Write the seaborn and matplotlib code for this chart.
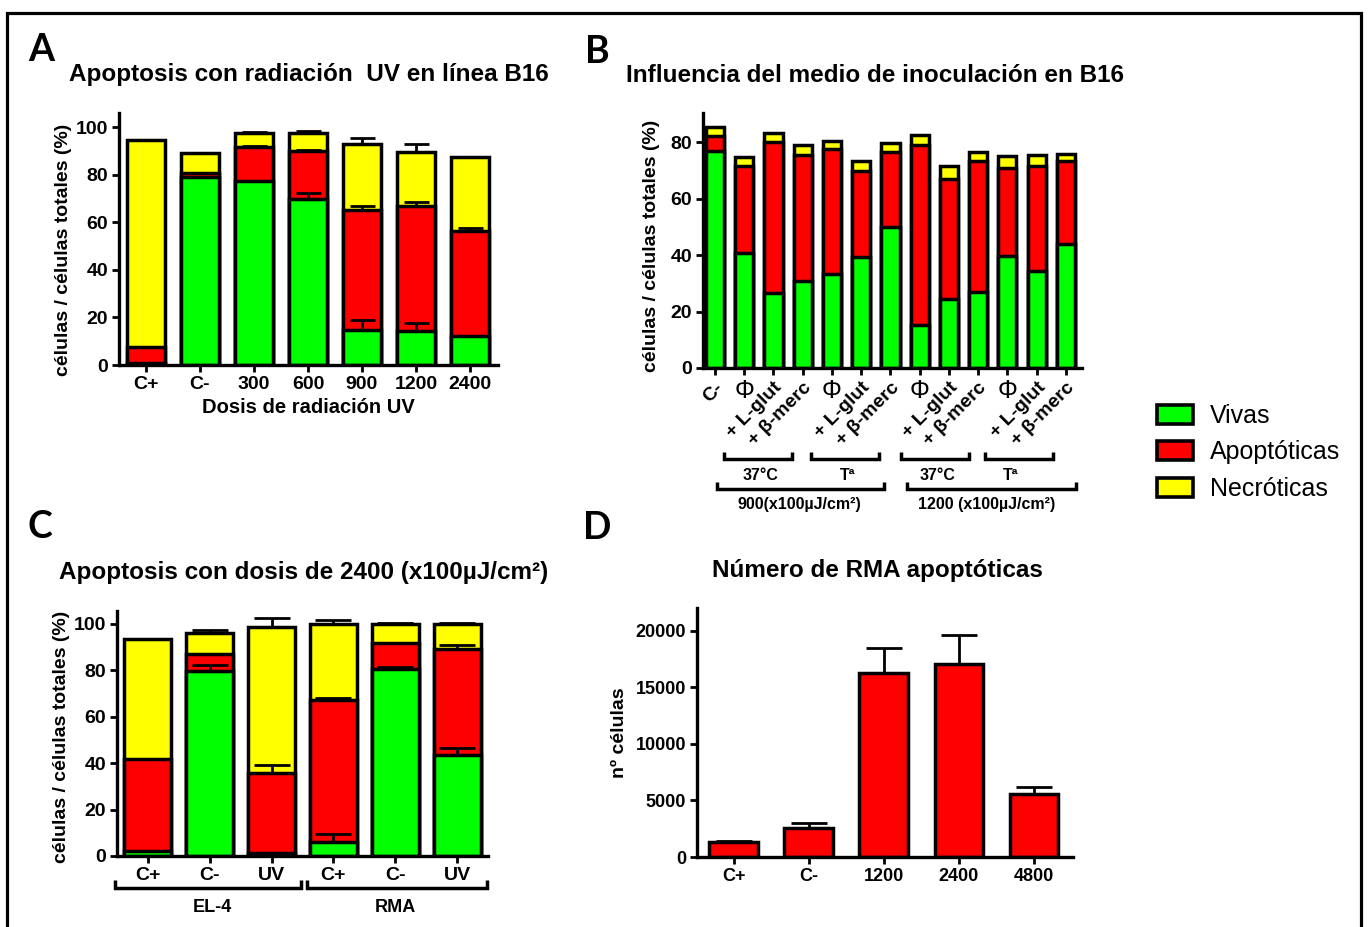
import numpy as np
import pandas as pd
import seaborn as sns
import matplotlib
matplotlib.use("Agg")
import matplotlib.pyplot as plt
from matplotlib.patches import Patch, Rectangle
from matplotlib.lines import Line2D
from matplotlib.transforms import blended_transform_factory

# ---------------- data ----------------
a_labels = ["C+", "C-", "300", "600", "900", "1200", "2400"]
a_vivas = [1.0, 79.0, 77.3, 69.7, 14.8, 14.3, 12.0]
a_apopt = [6.5, 1.7, 14.4, 20.3, 50.2, 52.6, 44.5]
a_necro = [87.0, 8.6, 5.7, 7.7, 27.9, 22.5, 30.8]
a_err_vivas = [0, 0, 0, 2.5, 4.0, 3.4, 0]
a_err_apopt = [0, 0, 0.5, 0.4, 1.7, 1.8, 1.0]
a_err_necro = [0, 0, 0.4, 0.8, 2.6, 3.6, 0]

b_labels = ["C-", "Φ", "+ L-glut", "+ β-merc", "Φ", "+ L-glut", "+ β-merc",
            "Φ", "+ L-glut", "+ β-merc", "Φ", "+ L-glut", "+ β-merc"]
b_vivas = [76.7, 40.9, 26.7, 30.8, 33.2, 39.3, 50.0, 15.4, 24.6, 26.9, 39.7, 34.4, 43.8]
b_apopt = [5.6, 30.8, 53.2, 44.8, 44.4, 30.6, 26.4, 63.6, 42.3, 46.5, 31.0, 37.3, 29.6]
b_necro = [3.2, 3.1, 3.2, 3.4, 2.7, 3.3, 3.3, 3.5, 4.8, 3.0, 4.3, 3.9, 2.4]
b_temp_labels = ["37°C", "Tª", "37°C", "Tª"]
b_dose_labels = ["900(x100µJ/cm²)", "1200 (x100µJ/cm²)"]

c_labels = ["C+", "C-", "UV", "C+", "C-", "UV"]
c_groups = ["EL-4", "RMA"]
c_vivas = [2.2, 79.6, 1.2, 6.0, 80.8, 43.7]
c_apopt = [39.7, 7.6, 34.5, 61.4, 10.8, 45.4]
c_necro = [51.8, 8.9, 63.1, 32.4, 8.4, 10.9]
c_err_vivas = [0, 2.6, 0, 3.4, 0.7, 2.9]
c_err_apopt = [0, 0, 3.5, 0.5, 0, 1.9]
c_err_necro = [0, 1.3, 3.8, 1.8, 0.3, 0.4]

d_labels = ["C+", "C-", "1200", "2400", "4800"]
d_values = [1330, 2600, 16250, 17050, 5550]
d_err = [120, 400, 2200, 2550, 650]

legend_labels = ["Vivas", "Apoptóticas", "Necróticas"]

# ---------------- style ----------------
sns.set_style("ticks")
plt.rcParams["font.family"] = ["Liberation Sans", "DejaVu Sans"]
plt.rcParams["font.weight"] = "bold"
plt.rcParams["axes.labelweight"] = "bold"
for k in ["text.color", "axes.labelcolor", "xtick.color", "ytick.color", "axes.edgecolor"]:
    plt.rcParams[k] = "black"

GRN, RED, YEL = "#00ff00", "#ff0000", "#ffff00"
LW = 2.5
W, H = 1368, 927

fig = plt.figure(figsize=(W / 100, H / 100), dpi=100)
fig.patch.set_facecolor("white")


def fx(px):
    return px / W


def fy(py):
    return 1 - py / H


def add_ax(left, top, right, bottom):
    return fig.add_axes([fx(left), fy(bottom), (right - left) / W, (bottom - top) / H])


def stacked(ax, vivas, apopt, necro, width, errs=None, capsize=9):
    v = np.array(vivas, float)
    a = np.array(apopt, float)
    n = np.array(necro, float)
    x = np.arange(len(v))
    for h, c in zip([v + a + n, v + a, v], [YEL, RED, GRN]):
        sns.barplot(x=x, y=h, color=c, width=width, saturation=1,
                    edgecolor="black", linewidth=LW, errorbar=None, ax=ax)
    if errs is not None:
        for h, e in zip([v, v + a, v + a + n], errs):
            e = np.array(e, float)
            m = e > 0
            ax.errorbar(x[m], h[m], yerr=[np.zeros(m.sum()), e[m]], fmt="none",
                        ecolor="black", elinewidth=2, capsize=capsize, capthick=2,
                        zorder=5)


def style(ax, xlim, ylim, yticks, labels, fs, rot=0):
    ax.set_xlim(*xlim)
    ax.set_ylim(*ylim)
    ax.set_yticks(yticks)
    ax.set_xlabel("")
    ax.set_ylabel("")
    for s in ["top", "right"]:
        ax.spines[s].set_visible(False)
    for s in ["left", "bottom"]:
        ax.spines[s].set_linewidth(2.4)
        ax.spines[s].set_color("black")
    ax.tick_params(direction="out", length=5, width=2, labelsize=fs, pad=3,
                   colors="black")
    if rot:
        ax.set_xticks(range(len(labels)), labels, rotation=rot, ha="right",
                      rotation_mode="anchor", fontsize=fs, fontweight="bold")
    else:
        ax.set_xticks(range(len(labels)), labels, fontsize=fs, fontweight="bold")
    for lab in ax.get_yticklabels():
        lab.set_fontweight("bold")
    ax.set_facecolor("none")


def bracket(ax, x1, x2, py, h=7, lw=2.5):
    tr = blended_transform_factory(ax.transData, fig.transFigure)
    y0 = fy(py)
    y1 = fy(py - h)
    ax.add_line(Line2D([x1, x1, x2, x2], [y1, y0, y0, y1], transform=tr,
                       color="black", lw=lw, clip_on=False,
                       solid_capstyle="butt", solid_joinstyle="miter"))


def label_at(ax, x, py, text, fs):
    tr = blended_transform_factory(ax.transData, fig.transFigure)
    ax.text(x, fy(py), text, transform=tr, ha="center", va="center",
            fontsize=fs, fontweight="bold", clip_on=False)


# ---------------- Panel A ----------------
axA = add_ax(119, 113, 498, 365)
stacked(axA, a_vivas, a_apopt, a_necro, 0.70,
        errs=[a_err_vivas, a_err_apopt, a_err_necro], capsize=9)
style(axA, (-0.5, 6.52), (0, 106), [0, 20, 40, 60, 80, 100], a_labels, 14)

# ---------------- Panel B ----------------
axB = add_ax(703, 113, 1082, 368)
stacked(axB, b_vivas, b_apopt, b_necro, 0.62)
style(axB, (-0.41, 12.55), (0, 90.3), [0, 20, 40, 60, 80], b_labels, 14, rot=45)
for lab in axB.get_xticklabels():
    if lab.get_text() == "Φ":
        lab.set_rotation(0)
        lab.set_fontweight("normal")
        lab.set_fontsize(18)
        lab.set_horizontalalignment("center")
        lab.set_x(lab.get_position()[0] - 0.25)
for (x1, x2) in [(0.31, 2.63), (3.28, 5.61), (6.36, 8.68), (9.23, 11.56)]:
    bracket(axB, x1, x2, 459)
for x, t in zip([1.54, 4.55, 7.6, 10.1], b_temp_labels):
    label_at(axB, x, 476, t, 11.5)
for (x1, x2) in [(0.07, 5.78), (6.56, 12.36)]:
    bracket(axB, x1, x2, 489)
for x, t in zip([2.9, 9.3], b_dose_labels):
    label_at(axB, x, 505, t, 11.5)

# ---------------- Panel C ----------------
axC = add_ax(117, 611, 488, 856)
stacked(axC, c_vivas, c_apopt, c_necro, 0.76,
        errs=[c_err_vivas, c_err_apopt, c_err_necro], capsize=13)
style(axC, (-0.5, 5.5), (0, 105.6), [0, 20, 40, 60, 80, 100], c_labels, 14)
bracket(axC, -0.53, 2.48, 888, h=8)
bracket(axC, 2.57, 5.49, 888, h=8)
for x, t in zip([1.04, 4.01], c_groups):
    label_at(axC, x, 908, t, 13)

# ---------------- Panel D ----------------
axD = add_ax(697, 608, 1073, 857)
dx = np.arange(len(d_values))
sns.barplot(x=dx, y=d_values, color=RED, width=0.65, saturation=1,
            edgecolor="black", linewidth=LW, errorbar=None, ax=axD)
axD.errorbar(dx, d_values, yerr=[np.zeros(len(d_err)), d_err], fmt="none",
             ecolor="black", elinewidth=2, capsize=13, capthick=2, zorder=5)
style(axD, (-0.49, 4.52), (0, 22000), [0, 5000, 10000, 15000, 20000], d_labels, 13)

# ---------------- texts ----------------
title_fs = 17.5
fig.text(fx(309), fy(75), "Apoptosis con radiación  UV en línea B16", ha="center",
         va="center", fontsize=title_fs, fontweight="bold")
fig.text(fx(875), fy(75), "Influencia del medio de inoculación en B16", ha="center",
         va="center", fontsize=title_fs, fontweight="bold")
fig.text(fx(304), fy(573), "Apoptosis con dosis de 2400 (x100µJ/cm²)", ha="center",
         va="center", fontsize=title_fs, fontweight="bold")
fig.text(fx(877), fy(570), "Número de RMA apoptóticas", ha="center",
         va="center", fontsize=title_fs, fontweight="bold")

ylab = "células / células totales (%)"
fig.text(fx(63), fy(250), ylab, rotation=90, ha="center", va="center",
         fontsize=14, fontweight="bold")
fig.text(fx(652), fy(246), ylab, rotation=90, ha="center", va="center",
         fontsize=14, fontweight="bold")
fig.text(fx(62), fy(737), ylab, rotation=90, ha="center", va="center",
         fontsize=14, fontweight="bold")
fig.text(fx(620), fy(733), "nº células", rotation=90, ha="center", va="center",
         fontsize=14, fontweight="bold")
fig.text(fx(308), fy(407), "Dosis de radiación UV", ha="center", va="center",
         fontsize=14.5, fontweight="bold")

for t, px, py in [("A", 41, 50), ("B", 597, 52), ("C", 40, 527), ("D", 597, 528)]:
    fig.text(fx(px), fy(py), t, ha="center", va="center", fontsize=27,
             fontweight="bold", family=["Lato", "DejaVu Sans"])

# ---------------- legend ----------------
handles = [Patch(facecolor=c, edgecolor="black", linewidth=2.6, label=l)
           for c, l in zip([GRN, RED, YEL], legend_labels)]
fig.legend(handles=handles, loc="upper left", bbox_to_anchor=(fx(1157), fy(404)),
           frameon=False, prop={"size": 18, "weight": "normal"},
           handlelength=1.45, handleheight=0.8, handletextpad=0.65,
           labelspacing=0.5, borderpad=0, borderaxespad=0)

# ---------------- frame ----------------
fig.add_artist(Rectangle((fx(7), -0.05), (1361 - 7) / W, fy(13) + 0.05,
                         transform=fig.transFigure, fill=False, lw=2.3,
                         ec="black", clip_on=False))

fig.savefig("out.png", dpi=100)
